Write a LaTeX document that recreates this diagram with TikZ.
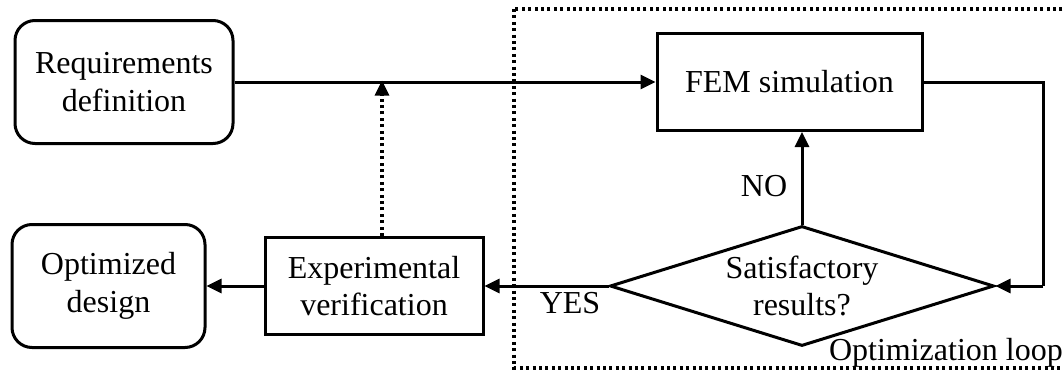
\documentclass[tikz,border=0pt]{standalone}
\usepackage{fontspec}
\setmainfont{Liberation Serif}
\usetikzlibrary{arrows.meta,shapes.geometric}
\begin{document}
\begin{tikzpicture}[x=1pt,y=-1pt,
  every node/.style={font=\fontsize{32}{37.5}\selectfont, align=center, inner sep=0pt},
  box/.style={draw, line width=3pt, minimum width=#1},
  rbox/.style={draw, line width=3pt, rounded corners=20pt, minimum width=#1, minimum height=123pt},
  dec/.style={draw, line width=3pt, diamond, aspect=3.2, minimum width=384pt, minimum height=120pt},
  arr/.style={line width=3pt, -{Triangle[length=15pt,width=14pt]}},
  dotline/.style={line width=3.2pt, dash pattern=on 3pt off 3.4pt},
  dotarr/.style={line width=3.2pt, dash pattern=on 3pt off 3.4pt, -{Triangle[length=15pt,width=14pt]}}
]
\useasboundingbox (0,0) rectangle (1063,372);
% dotted loop frame
\draw[dotline] (514,9) rectangle (1066,368);
\node[rbox=218pt] (req) at (124,82) {Requirements\\definition};
\node[rbox=193pt] (opt) at (108.5,286) {Optimized\\design};
\node[box=218pt, minimum height=97pt] (exp) at (374,286) {Experimental\\verification};
\node[box=265pt, minimum height=97pt] (fem) at (789.5,82) {FEM simulation};
\node[dec] (dec) at (802,286) {Satisfactory\\results?};
\node (yes) at (570,303) {YES};
\node (no) at (764,186) {NO};
\node[anchor=base east] (looplabel) at (1063,360) {Optimization loop};
\coordinate (lc) at (1043,0);
\coordinate (j) at (382,82);
% connectors
\draw[arr] (req) -- (fem);
\draw[arr] (dec.north) -- (fem.south -| dec.north);
\draw[line width=3pt] (fem.east) -| (lc |- dec.east);
\draw[arr] (lc |- dec.east) -- (dec.east);
\draw[arr] (dec.west) -- (exp.east);
\draw[arr] (exp.west) -- (opt.east);
\draw[dotarr] (exp.north -| j) -- ([yshift=1.5pt]j);
\end{tikzpicture}
\end{document}
